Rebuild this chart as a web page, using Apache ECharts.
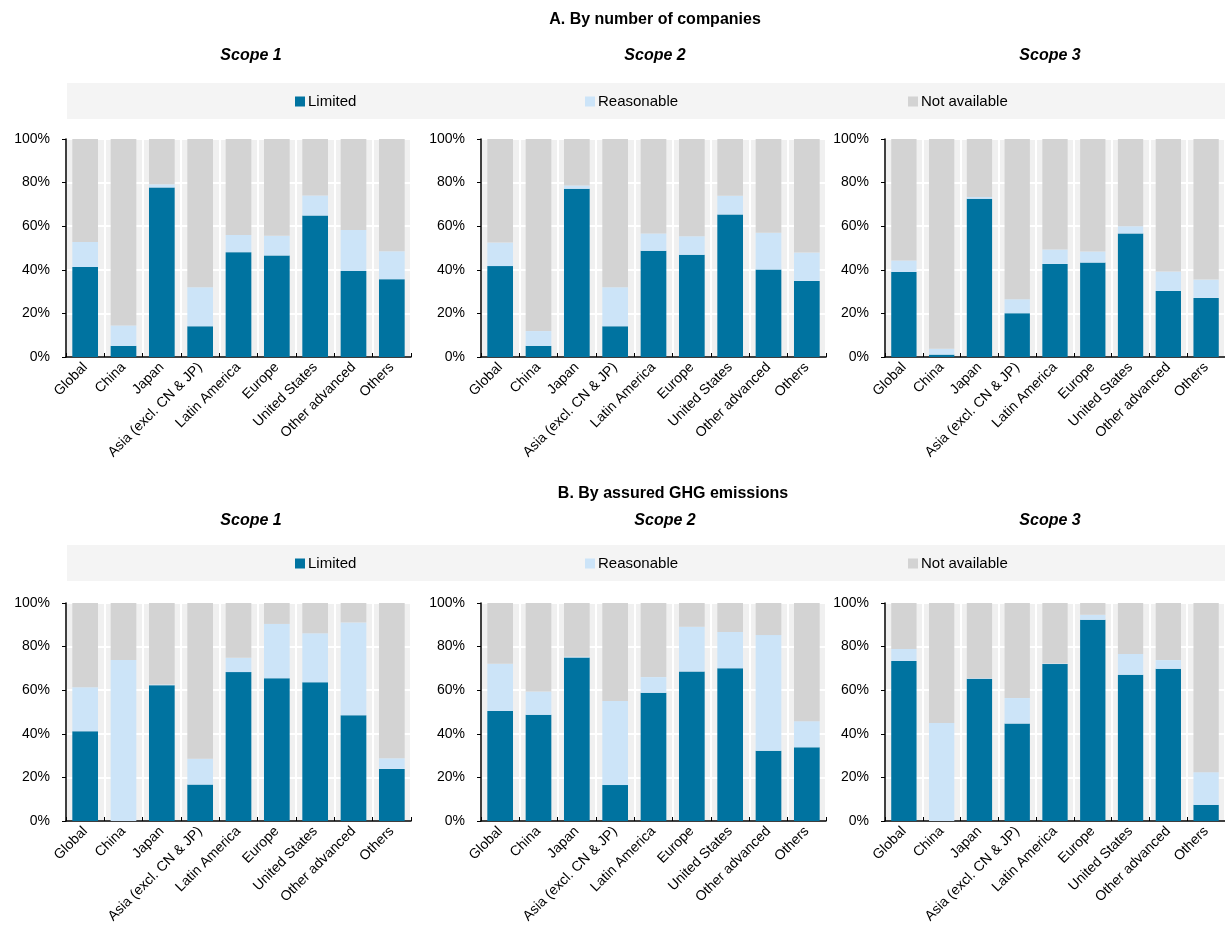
<!DOCTYPE html>
<html>
<head>
<meta charset="utf-8">
<script src="https://cdn.jsdelivr.net/npm/echarts@6/dist/echarts.min.js"></script>
<style>
  html, body { margin: 0; padding: 0; background: #ffffff; }
  #chart { width: 1225px; height: 932px; }
</style>
</head>
<body>
<div id="chart"></div>
<script>
// Regions shown on every panel's category axis
const categories = ['Global', 'China', 'Japan', 'Asia (excl. CN & JP)', 'Latin America',
  'Europe', 'United States', 'Other advanced', 'Others'];

// Series names (legend order)
const seriesNames = ['Limited', 'Reasonable', 'Not available'];

// Y-axis tick values (percent)
const yTicks = [0, 20, 40, 60, 80, 100];

// A. By number of companies — share (%) with limited / reasonable assurance
const limitedA1    = [41.3, 5.1, 77.8, 14.1, 48.1, 46.6, 64.9, 39.5, 35.7];
const reasonableA1 = [11.5, 9.4, 1.4, 17.9, 7.9, 9.0, 9.2, 18.7, 12.8];
const limitedA2    = [41.7, 5.1, 77.2, 14.1, 48.7, 46.9, 65.4, 40.1, 34.9];
const reasonableA2 = [10.8, 6.8, 1.5, 17.9, 8.0, 8.5, 8.6, 16.9, 13.0];
const limitedA3    = [39.0, 1.1, 72.6, 20.1, 42.7, 43.3, 56.7, 30.3, 27.1];
const reasonableA3 = [5.3, 2.7, 0.8, 6.4, 6.6, 5.1, 3.3, 8.9, 8.4];

// B. By assured GHG emissions — share (%) with limited / reasonable assurance
const limitedB1    = [41.2, 0.0, 62.3, 16.7, 68.3, 65.5, 63.7, 48.5, 23.9];
const reasonableB1 = [20.2, 73.8, 0.3, 11.9, 6.6, 24.9, 22.4, 42.6, 4.9];
const limitedB2    = [50.5, 48.7, 75.0, 16.5, 58.8, 68.6, 70.1, 32.2, 33.8];
const reasonableB2 = [21.6, 10.7, 0.3, 38.5, 7.2, 20.5, 16.6, 53.1, 12.0];
const limitedB3    = [73.4, 0.0, 65.2, 44.7, 72.0, 92.3, 67.1, 69.8, 7.4];
const reasonableB3 = [5.5, 44.9, 0.3, 11.7, 0.3, 2.3, 9.5, 4.0, 15.0];

const panels = [
  { limited: limitedA1, reasonable: reasonableA1, left: 66,  top: 139 },
  { limited: limitedA2, reasonable: reasonableA2, left: 481, top: 139 },
  { limited: limitedA3, reasonable: reasonableA3, left: 885, top: 139 },
  { limited: limitedB1, reasonable: reasonableB1, left: 66,  top: 603 },
  { limited: limitedB2, reasonable: reasonableB2, left: 481, top: 603 },
  { limited: limitedB3, reasonable: reasonableB3, left: 885, top: 603 }
];

const colors = ['#0073a0', '#cce4f8', '#d3d3d3'];
const FONT = '"Liberation Sans", Arial, Helvetica, sans-serif';

const grids = [], xAxes = [], yAxes = [], series = [];
panels.forEach((p, i) => {
  grids.push({
    left: p.left, top: p.top, width: 345, height: 218,
    show: true, backgroundColor: '#f0f0f0', borderWidth: 0, containLabel: false
  });
  xAxes.push({
    type: 'category', gridIndex: i, data: categories,
    axisLine: { show: true, lineStyle: { color: '#000', width: 1.5 } },
    axisTick: { show: true, inside: true, length: 4, lineStyle: { color: '#000' } },
    splitLine: { show: true, lineStyle: { color: '#ffffff', width: 2 } },
    axisLabel: {
      interval: 0, rotate: 45, margin: 8,
      fontFamily: FONT, fontSize: 14, color: '#000'
    }
  });
  yAxes.push({
    type: 'value', gridIndex: i,
    min: yTicks[0], max: yTicks[yTicks.length - 1], interval: yTicks[1] - yTicks[0],
    axisLine: { show: true, lineStyle: { color: '#000', width: 1.5 } },
    axisTick: { show: true, inside: false, length: 4, lineStyle: { color: '#000' } },
    splitLine: { show: true, lineStyle: { color: '#ffffff', width: 2 } },
    axisLabel: {
      margin: 16, fontFamily: FONT, fontSize: 14, color: '#000',
      formatter: v => v + '%'
    }
  });
  const notAvailable = p.limited.map((v, k) => +(100 - v - p.reasonable[k]).toFixed(1));
  [p.limited, p.reasonable, notAvailable].forEach((vals, s) => {
    series.push({
      type: 'bar', name: seriesNames[s], stack: 'total' + i,
      xAxisIndex: i, yAxisIndex: i, data: vals,
      barCategoryGap: '33%',
      itemStyle: { color: colors[s] },
      emphasis: { disabled: true },
      animation: false
    });
  });
});

// Panel headings
const titleStyle = { fontFamily: FONT, fontSize: 16, fontWeight: 'bold', color: '#000' };
const scopeStyle = { fontFamily: FONT, fontSize: 16, fontWeight: 'bold', fontStyle: 'italic', color: '#000' };
const headings = [
  { text: 'A. By number of companies', x: 655, y: 20, style: titleStyle },
  { text: 'Scope 1', x: 251, y: 56, style: scopeStyle },
  { text: 'Scope 2', x: 655, y: 56, style: scopeStyle },
  { text: 'Scope 3', x: 1050, y: 56, style: scopeStyle },
  { text: 'B. By assured GHG emissions', x: 673, y: 494, style: titleStyle },
  { text: 'Scope 1', x: 251, y: 521, style: scopeStyle },
  { text: 'Scope 2', x: 665, y: 521, style: scopeStyle },
  { text: 'Scope 3', x: 1050, y: 521, style: scopeStyle }
];
const graphics = [
  { type: 'rect', shape: { x: 67, y: 83, width: 1160, height: 36 }, style: { fill: '#f4f4f4' }, z: -1 },
  { type: 'rect', shape: { x: 67, y: 545, width: 1160, height: 36 }, style: { fill: '#f4f4f4' }, z: -1 }
];
headings.forEach(h => {
  graphics.push({
    type: 'text', x: h.x, y: h.y,
    style: Object.assign({ text: h.text, align: 'center', verticalAlign: 'middle' }, {
      font: (h.style.fontStyle === 'italic' ? 'italic ' : '') + 'bold ' + h.style.fontSize + 'px ' + FONT,
      fill: '#000'
    })
  });
});

// Legends: one strip per section, each item placed at its own position
const legendX = [295, 585, 908];
const legendY = [94, 556];
const legends = [];
legendY.forEach(ly => {
  seriesNames.forEach((name, k) => {
    legends.push({
      data: [name], left: legendX[k], top: ly,
      icon: 'rect', itemWidth: 10, itemHeight: 10, itemGap: 0,
      padding: 0, selectedMode: false,
      textStyle: { fontFamily: FONT, fontSize: 15, color: '#000', padding: [0, 0, 0, -2] }
    });
  });
});

const chart = echarts.init(document.getElementById('chart'), null, { renderer: 'canvas' });
chart.setOption({
  animation: false,
  backgroundColor: '#ffffff',
  color: colors,
  grid: grids,
  xAxis: xAxes,
  yAxis: yAxes,
  series: series,
  legend: legends,
  graphic: graphics
});
</script>
</body>
</html>
